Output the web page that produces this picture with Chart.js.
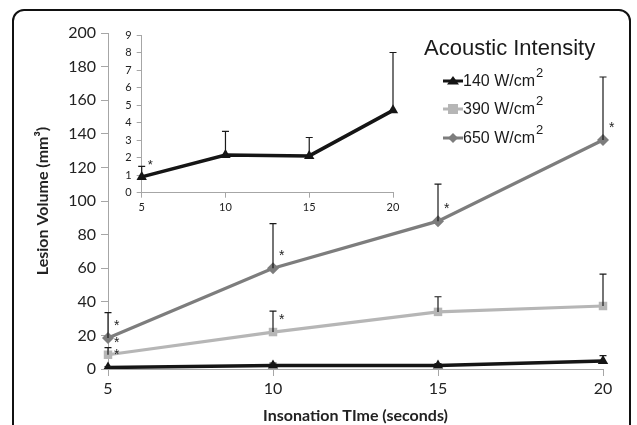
<!DOCTYPE html>
<html>
<head>
<meta charset="utf-8">
<script src="https://cdn.jsdelivr.net/npm/chart.js@4.4.0/dist/chart.umd.min.js"></script>
<style>
  html, body { margin: 0; padding: 0; background: #fff; }
  #wrap { position: relative; width: 637px; height: 425px; overflow: hidden; }
  #frame { position: absolute; left: 12px; top: 9px; width: 619px; height: 520px;
           border: 2px solid #111; border-radius: 12px; box-sizing: border-box; }
  #main { position: absolute; left: 0; top: 0; }
  #inset { position: absolute; left: 100px; top: 20px; }
</style>
</head>
<body>
<div id="wrap">
  <div id="frame"></div>
  <canvas id="main" width="637" height="425"></canvas>
  <canvas id="inset" width="310" height="205"></canvas>
</div>
<script>
// ---- data ----
const categories = ['5', '10', '15', '20'];
const seriesNames = ['140 W/cm', '390 W/cm', '650 W/cm'];
const vol140 = [0.9, 2.15, 2.1, 4.7];
const err140 = [0.6, 1.35, 1.05, 3.3];
const vol390 = [8.5, 22, 34, 37.5];
const err390 = [4.2, 12.5, 9, 19];
const vol650 = [18.5, 60, 88, 136.3];
const err650 = [15, 26.5, 22, 37.5];
const sig140 = [true, false, false, false];
const sig390 = [true, true, false, false];
const sig650 = [true, true, true, true];
const mainYTicks = [0, 20, 40, 60, 80, 100, 120, 140, 160, 180, 200];
const insetYTicks = [0, 1, 2, 3, 4, 5, 6, 7, 8, 9];

const C140 = '#151515', C390 = '#b6b6b6', C650 = '#7d7d7d';
const AXIS = '#a6a6a6';

// error bars + significance stars
const errPlugin = {
  id: 'errs',
  afterDatasetsDraw(chart, args, opts) {
    const ctx = chart.ctx;
    const ys = chart.scales.y;
    ctx.save();
    chart.data.datasets.forEach((ds, i) => {
      const meta = chart.getDatasetMeta(i);
      meta.data.forEach((pt, j) => {
        const top = ys.getPixelForValue(ds.values[j] + ds.errs[j]);
        ctx.strokeStyle = '#1a1a1a';
        ctx.lineWidth = 1.2;
        ctx.beginPath();
        ctx.moveTo(pt.x, pt.y);
        ctx.lineTo(pt.x, top);
        ctx.moveTo(pt.x - 3.5, top);
        ctx.lineTo(pt.x + 3.5, top);
        ctx.stroke();
        if (ds.sig[j]) {
          ctx.fillStyle = '#222';
          ctx.font = (opts.starSize || 14) + 'px "Liberation Sans"';
          ctx.textAlign = 'left';
          ctx.textBaseline = 'middle';
          ctx.fillText('*', pt.x + 6, pt.y - (opts.starOff || 12));
        }
      });
    });
    ctx.restore();
  }
};

// legend with superscripts
const legendPlugin = {
  id: 'legendSup',
  afterDraw(chart) {
    const ctx = chart.ctx;
    ctx.save();
    ctx.fillStyle = '#1a1a1a';
    ctx.font = '22px "Liberation Sans"';
    ctx.textBaseline = 'middle';
    ctx.textAlign = 'left';
    ctx.fillText('Acoustic Intensity', 424, 49);
    const rows = [81, 109, 138];
    chart.data.datasets.forEach((ds, i) => {
      const y = rows[i];
      ctx.strokeStyle = ds.borderColor;
      ctx.lineWidth = 3;
      ctx.beginPath();
      ctx.moveTo(443, y); ctx.lineTo(463, y); ctx.stroke();
      ctx.fillStyle = ds.pointBackgroundColor;
      ctx.beginPath();
      if (ds.pointStyle === 'triangle') {
        ctx.moveTo(453, y - 5); ctx.lineTo(459, y + 3.5); ctx.lineTo(447, y + 3.5); ctx.closePath();
      } else if (ds.pointStyle === 'rect') {
        ctx.rect(448, y - 5, 10, 10);
      } else {
        ctx.moveTo(453, y - 5); ctx.lineTo(458, y); ctx.lineTo(453, y + 5); ctx.lineTo(448, y); ctx.closePath();
      }
      ctx.fill();
      ctx.fillStyle = '#1a1a1a';
      ctx.font = '16px "Liberation Sans"';
      ctx.textBaseline = 'middle';
      ctx.fillText(seriesNames[i], 463, y + 1);
      const w = ctx.measureText(seriesNames[i]).width;
      ctx.font = '13px "Liberation Sans"';
      ctx.fillText('2', 463 + w + 1, y - 8);
    });
    ctx.restore();
  }
};

function mkSet(label, vals, errs, sig, color, style, radius, width) {
  return {
    label, data: vals, values: vals, errs, sig,
    borderColor: color, backgroundColor: color,
    pointBackgroundColor: color, pointBorderColor: color,
    pointStyle: style, pointRadius: radius, pointBorderWidth: 0,
    borderWidth: width, tension: 0
  };
}

new Chart(document.getElementById('main'), {
  type: 'line',
  data: {
    labels: categories,
    datasets: [
      mkSet('140', vol140, err140, sig140, C140, 'triangle', 6, 3.5),
      mkSet('390', vol390, err390, sig390, C390, 'rect', 6, 3.2),
      mkSet('650', vol650, err650, sig650, C650, 'rectRot', 6, 3.2)
    ].reverse().reverse()
  },
  options: {
    responsive: false, animation: false, devicePixelRatio: 1,
    layout: { padding: { left: 33, top: 33, right: 34, bottom: 0 } },
    plugins: { legend: { display: false }, tooltip: { enabled: false }, errs: { starSize: 14, starOff: 12 } },
    scales: {
      x: {
        type: 'category', offset: false,
        afterFit(s) { s.height = 56; },
        grid: { display: true, drawOnChartArea: false, drawTicks: true, tickLength: 7, color: AXIS },
        border: { display: true, color: AXIS, width: 1 },
        ticks: { color: '#222', font: { family: 'Lato', size: 16 }, padding: 3, maxRotation: 0 },
        title: { display: true, text: 'Insonation TIme (seconds)', color: '#222',
                 font: { family: 'Lato', size: 16, weight: 'bold' }, padding: { top: 0, bottom: 0 } }
      },
      y: {
        min: 0, max: 200,
        afterFit(s) { s.width = 75; },
        afterBuildTicks(s) { s.ticks = mainYTicks.map(v => ({ value: v })); },
        grid: { display: true, drawOnChartArea: false, drawTicks: true, tickLength: 7, color: AXIS },
        border: { display: true, color: AXIS, width: 1 },
        ticks: { color: '#222', font: { family: 'Lato', size: 16 }, padding: 5 },
        title: { display: true, text: 'Lesion Volume (mm³)', color: '#222',
                 font: { family: 'Lato', size: 16, weight: 'bold' }, padding: { top: 0, bottom: 0 } }
      }
    }
  },
  plugins: [errPlugin, legendPlugin]
});

new Chart(document.getElementById('inset'), {
  type: 'line',
  data: {
    labels: categories,
    datasets: [ mkSet('140', vol140, err140, sig140, C140, 'triangle', 6, 3.5) ]
  },
  options: {
    responsive: false, animation: false, devicePixelRatio: 1,
    layout: { padding: { left: 10, top: 15, right: 17, bottom: 0 } },
    plugins: { legend: { display: false }, tooltip: { enabled: false }, errs: { starSize: 13, starOff: 12 } },
    scales: {
      x: {
        type: 'category', offset: false,
        afterFit(s) { s.height = 32.3; },
        grid: { display: true, drawOnChartArea: false, drawTicks: true, tickLength: 5, color: AXIS },
        border: { display: true, color: AXIS, width: 1 },
        ticks: { color: '#222', font: { family: 'Lato', size: 11 }, padding: 3, maxRotation: 0 }
      },
      y: {
        min: 0, max: 9,
        afterFit(s) { s.width = 31.7; },
        afterBuildTicks(s) { s.ticks = insetYTicks.map(v => ({ value: v })); },
        grid: { display: true, drawOnChartArea: false, drawTicks: true, tickLength: 5, color: AXIS },
        border: { display: true, color: AXIS, width: 1 },
        ticks: { color: '#222', font: { family: 'Lato', size: 11 }, padding: 5 }
      }
    }
  },
  plugins: [errPlugin]
});
</script>
</body>
</html>
